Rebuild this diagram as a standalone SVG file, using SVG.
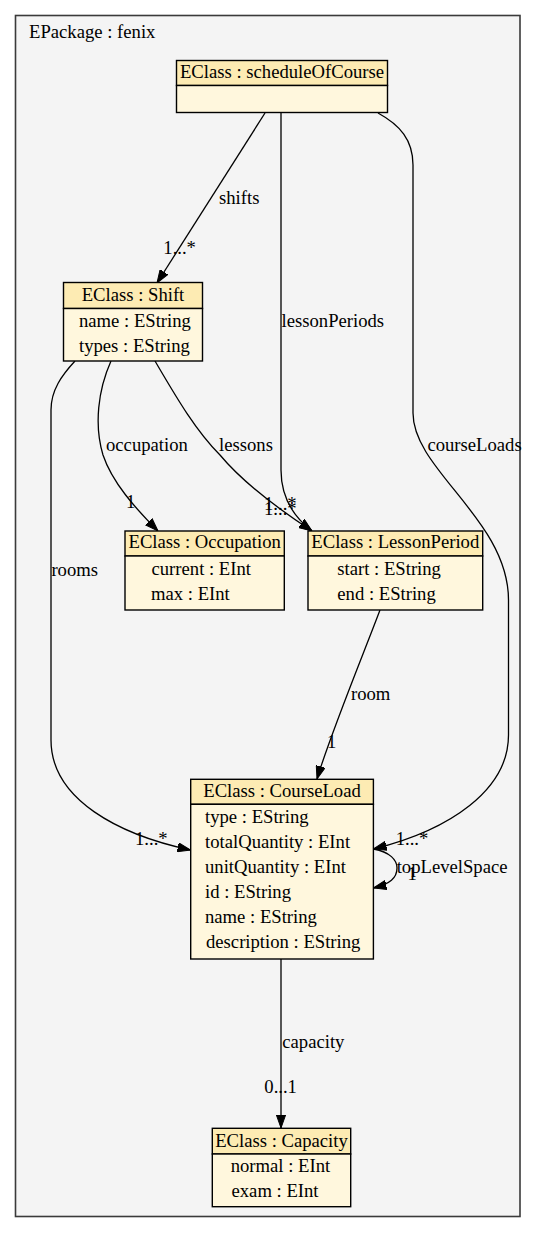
<svg xmlns="http://www.w3.org/2000/svg" width="536" height="1233" viewBox="0 0 536 1233">
<style>
text{font-family:"Liberation Serif","Times New Roman",serif;font-size:18.67px;fill:#000}
.hd{fill:#fdebb3;stroke:#000;stroke-width:1.4}
.bd{fill:#fff7dd;stroke:#000;stroke-width:1.4}
.c{text-anchor:middle}
.e{fill:none;stroke:#000;stroke-width:1.3;marker-end:url(#arr)}
</style>
<defs>
<marker id="arr" markerUnits="userSpaceOnUse" viewBox="0 0 13 10" markerWidth="13" markerHeight="10" refX="13" refY="5" orient="auto">
<path d="M0,0.4 L13,5 L0,9.6 Z" fill="#000" stroke="#000" stroke-width="1"/>
</marker>
</defs>
<rect width="536" height="1233" fill="#fff"/>
<g id="package">
<rect x="15.5" y="15.5" width="504.5" height="1201" fill="#f4f4f4" stroke="#3a3a3a" stroke-width="1.6"/>
<text x="29" y="38.3">EPackage : fenix</text>
</g>
<g id="connectors">
<path class="e" d="M265,113 L157,283"/>
<path class="e" d="M281,113 L281,470 C281,500 295,518 312,531"/>
<path class="e" d="M378,113 C400,125 413,140 413,165 L413,413 C413,470 508.5,520 508.5,600 L508.5,735 C508.5,790 450,830 373.5,849"/>
<path class="e" d="M111,361 C98,390 94,425 103,455 C112,482 135,508 158,531"/>
<path class="e" d="M155,361 C175,395 195,430 220,455 C245,485 280,510 312,531"/>
<path class="e" d="M75,361 C62,375 51,390 51,410 L51,740 C51,800 120,835 190.5,850"/>
<path class="e" d="M380,610 C365,650 330,735 317,779"/>
<path class="e" d="M373.5,849 C390,852 397,860 397,868 C397,878 390,884 373.5,888"/>
<path class="e" d="M281,959 L281,1128"/>
<text x="219" y="204">shifts</text>
<text x="163.3" y="254">1...*</text>
<text x="281.5" y="327">lessonPeriods</text>
<text x="427.4" y="451">courseLoads</text>
<text x="106" y="451">occupation</text>
<text x="126" y="508">1</text>
<text x="219" y="451">lessons</text>
<text x="264" y="509.5">1...*</text>
<text x="264" y="515">1...*</text>
<text x="51.4" y="576">rooms</text>
<text x="135" y="845">1...*</text>
<text x="395.7" y="845">1...*</text>
<text x="351" y="700">room</text>
<text x="327" y="748">1</text>
<text x="396.7" y="873">topLevelSpace</text>
<text x="407.5" y="880">1</text>
<text x="282.3" y="1048">capacity</text>
<text x="264.3" y="1093">0...1</text>
</g>
<g id="scheduleOfCourse">
<rect class="hd" x="176.5" y="60.5" width="211" height="25"/>
<rect class="bd" x="176.5" y="85.5" width="211" height="27"/>
<text class="c" x="282" y="78.3">EClass : scheduleOfCourse</text>
</g>
<g id="Shift">
<rect class="hd" x="63.5" y="282.5" width="139" height="26"/>
<rect class="bd" x="63.5" y="308.5" width="139" height="52.5"/>
<text class="c" x="133" y="301">EClass : Shift</text>
<text x="79" y="326.7">name : EString</text>
<text x="79" y="351.7">types : EString</text>
</g>
<g id="Occupation">
<rect class="hd" x="125" y="531" width="159.3" height="25"/>
<rect class="bd" x="125" y="556" width="159.3" height="54"/>
<text class="c" x="204.7" y="548">EClass : Occupation</text>
<text x="151.5" y="575">current : EInt</text>
<text x="151" y="600">max : EInt</text>
</g>
<g id="LessonPeriod">
<rect class="hd" x="308" y="531" width="174.7" height="25"/>
<rect class="bd" x="308" y="556" width="174.7" height="54"/>
<text class="c" x="395.3" y="548">EClass : LessonPeriod</text>
<text x="337.3" y="575">start : EString</text>
<text x="337.3" y="600">end : EString</text>
</g>
<g id="CourseLoad">
<rect class="hd" x="190.7" y="779.3" width="182.7" height="25"/>
<rect class="bd" x="190.7" y="804.3" width="182.7" height="154.7"/>
<text class="c" x="282" y="796.7">EClass : CourseLoad</text>
<text x="205" y="823.3">type : EString</text>
<text x="205" y="848.3">totalQuantity : EInt</text>
<text x="205" y="873.3">unitQuantity : EInt</text>
<text x="205" y="898.3">id : EString</text>
<text x="205" y="923.3">name : EString</text>
<text x="206" y="948.3">description : EString</text>
</g>
<g id="Capacity">
<rect class="hd" x="212.3" y="1128.3" width="138.4" height="25.7"/>
<rect class="bd" x="212.3" y="1154" width="138.4" height="52.7"/>
<text class="c" x="281.5" y="1146.7">EClass : Capacity</text>
<text x="230.7" y="1171.7">normal : EInt</text>
<text x="231.5" y="1196.7">exam : EInt</text>
</g>
</svg>
